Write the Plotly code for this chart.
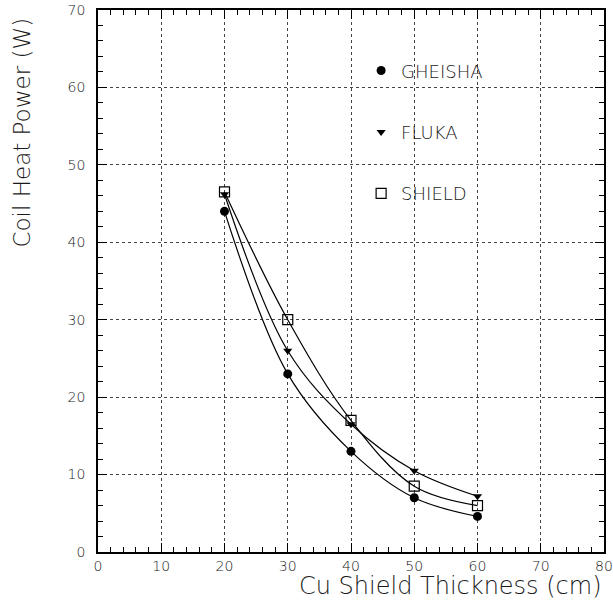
import plotly.graph_objects as go

thickness = [20, 30, 40, 50, 60]
gheisha = [44.0, 23.0, 13.0, 7.0, 4.6]
fluka = [46.2, 26.0, 16.5, 10.5, 7.2]
shield = [46.5, 30.0, 17.0, 8.5, 6.0]

series = [
    ("GHEISHA", gheisha, dict(symbol="circle", size=9, color="black")),
    ("FLUKA", fluka, dict(symbol="triangle-down", size=8, color="black")),
    ("SHIELD", shield, dict(symbol="square-open", size=10, color="black", line=dict(width=1.2))),
]

FONT = "DejaVu Sans ExtraLight, DejaVu Sans"
TXT = "#1a1a1a"
fig = go.Figure()
for i, (name, ys, mk) in enumerate(series):
    fig.add_trace(go.Scatter(
        x=thickness, y=ys, mode="lines+markers", name=name,
        line=dict(color="black", width=1.2, shape="spline", smoothing=1.0),
        marker=mk, showlegend=False, cliponaxis=False,
    ))
for i, (name, ys, mk) in enumerate(series):
    fig.add_trace(go.Scatter(
        x=[None], y=[None], mode="markers", name=name, marker=mk,
        legendgroup=f"g{i}", showlegend=True,
    ))

axis_common = dict(
    showline=True, linecolor="black", linewidth=1.5, mirror="allticks",
    ticks="inside", ticklen=9, tickwidth=1.3, tickcolor="black",
    showgrid=True, gridcolor="#444", griddash="dot", gridwidth=1,
    zeroline=False, dtick=10, automargin=False,
    minor=dict(ticks="inside", ticklen=5, tickwidth=1, tickcolor="black", dtick=2, showgrid=False),
    tickfont=dict(family=FONT, size=14, color=TXT, weight=200),
)

fig.update_xaxes(range=[0, 80], tick0=0, ticklabelstandoff=0, **axis_common)
fig.update_yaxes(range=[0, 70], tick0=0, ticklabelstandoff=8, **axis_common)

fig.add_annotation(text="Cu Shield Thickness (cm)", xref="paper", yref="paper",
                   x=1.0, y=-0.062, xanchor="right", yanchor="middle", showarrow=False,
                   font=dict(family=FONT, size=24, color=TXT, weight=200))
fig.add_annotation(text="Coil Heat Power (W)", xref="paper", yref="paper",
                   x=-0.150, y=0.99, xanchor="center", yanchor="top", textangle=-90, showarrow=False,
                   font=dict(family=FONT, size=23, color=TXT, weight=200))

fig.update_layout(
    width=613, height=606,
    margin=dict(l=98, r=9, t=10, b=54),
    plot_bgcolor="white", paper_bgcolor="white",
    legend=dict(x=0.52, y=0.922, xanchor="left", yanchor="top", tracegroupgap=35,
                bgcolor="rgba(0,0,0,0)", font=dict(family=FONT, size=18, color=TXT, weight=200),
                itemsizing="trace"),
)

fig.write_html("out.html")
